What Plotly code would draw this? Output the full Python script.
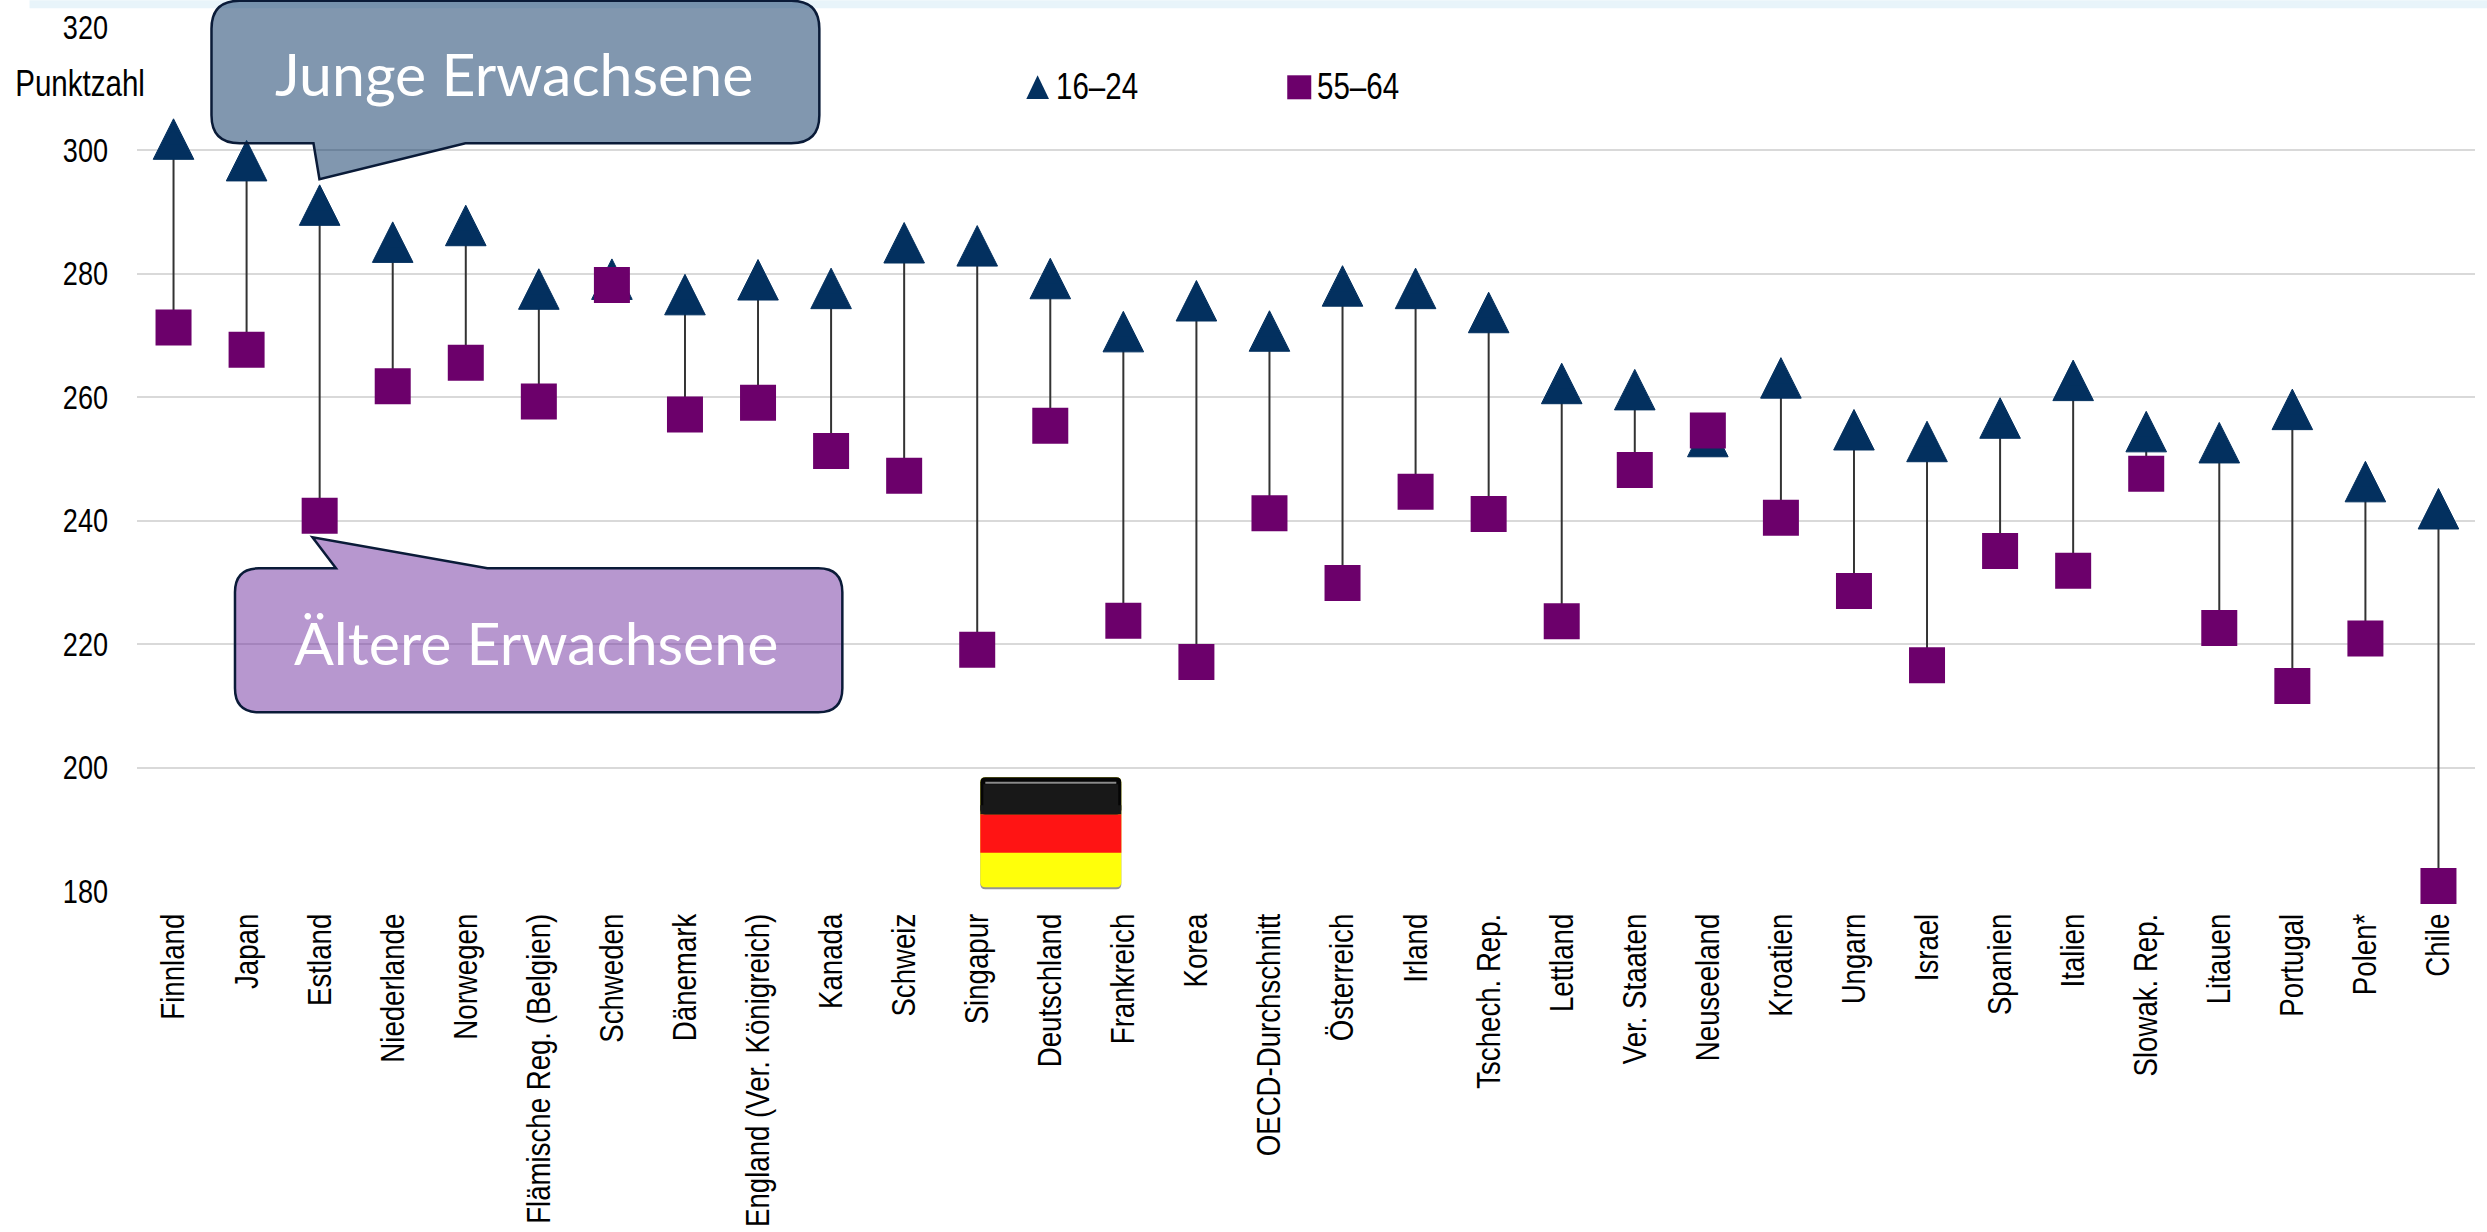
import plotly.graph_objects as go

countries = ["Finnland", "Japan", "Estland", "Niederlande", "Norwegen", "Flämische Reg. (Belgien)", "Schweden",
             "Dänemark", "England (Ver. Königreich)", "Kanada", "Schweiz", "Singapur", "Deutschland", "Frankreich",
             "Korea", "OECD-Durchschnitt", "Österreich", "Irland", "Tschech. Rep.", "Lettland", "Ver. Staaten",
             "Neuseeland", "Kroatien", "Ungarn", "Israel", "Spanien", "Italien", "Slowak. Rep.", "Litauen",
             "Portugal", "Polen*", "Chile"]
young = [301.8, 298.3, 291.1, 285.1, 287.8, 277.5, 279.1, 276.6, 279.0, 277.6, 285.0, 284.5, 279.2, 270.6, 275.6,
         270.7, 278.0, 277.6, 273.7, 262.2, 261.2, 253.6, 263.1, 254.7, 252.8, 256.6, 262.7, 254.4, 252.6, 258.0,
         246.3, 241.9]
old = [271.3, 267.7, 240.8, 261.8, 265.6, 259.3, 278.2, 257.2, 259.1, 251.3, 247.3, 219.1, 255.4, 223.8, 217.1,
       241.2, 229.9, 244.7, 241.1, 223.7, 248.2, 254.6, 240.5, 228.6, 216.6, 235.1, 231.9, 247.6, 222.6, 213.2,
       220.9, 180.8]
y_ticks = [180, 200, 220, 240, 260, 280, 300, 320]

W, H = 2487, 1232
L, R, T, B = 136.5, 2475, 26.7, 890.7
NAVY, PURPLE = "#03305F", "#6C006B"
SANS = "Liberation Sans, Arial, sans-serif"


def px(x):
    return (x - L) / (R - L)


def py(y):
    return (B - y) / (B - T)


def path(points, close=True):
    s = "M" + " L".join(f"{px(x):.5f},{py(y):.5f}" for x, y in points)
    return s + (" Z" if close else "")


def rounded(x0, y0, x1, y1, r, extra_top=None, extra_bottom=None):
    p = lambda x, y: f"{px(x):.5f},{py(y):.5f}"
    s = f"M{p(x0 + r, y0)}"
    for pt in (extra_top or []):
        s += f" L{p(*pt)}"
    s += f" L{p(x1 - r, y0)} Q{p(x1, y0)} {p(x1, y0 + r)} L{p(x1, y1 - r)} Q{p(x1, y1)} {p(x1 - r, y1)}"
    for pt in (extra_bottom or []):
        s += f" L{p(*pt)}"
    s += f" L{p(x0 + r, y1)} Q{p(x0, y1)} {p(x0, y1 - r)} L{p(x0, y0 + r)} Q{p(x0, y0)} {p(x0 + r, y0)} Z"
    return s


shapes = []
# stems and triangles between grid and traces, so that the squares cover them
for c, a, b in zip(countries, young, old):
    shapes.append(dict(type="line", xref="x", yref="y", x0=c, x1=c, y0=a, y1=b, layer="between",
                       line=dict(color="#333333", width=2)))
for c, a in zip(countries, young):
    shapes.append(dict(type="path", xref="x", yref="y", xsizemode="pixel", ysizemode="pixel", xanchor=c, yanchor=a,
                       path="M-20.3,-20 L20.3,-20 L0,20.5 Z", fillcolor=NAVY, line=dict(color=NAVY, width=1),
                       layer="between"))

# top strip
shapes.append(dict(type="path", xref="paper", yref="paper", path=path([(29, 0), (W, 0), (W, 8), (29, 8)]),
                   fillcolor="#E8F4FA", line=dict(width=0), layer="below"))

# callouts
shapes.append(dict(type="path", xref="paper", yref="paper", layer="above",
                   path=rounded(211, 0.5, 819, 143, 28, extra_bottom=[(465, 143), (319, 179), (313, 143)]),
                   fillcolor="rgba(3,47,96,0.5)", line=dict(color="#0A1B38", width=2.5)))
shapes.append(dict(type="path", xref="paper", yref="paper", layer="above",
                   path=rounded(234.5, 568, 842, 712, 24, extra_top=[(335.5, 568), (312, 537), (487, 568)]),
                   fillcolor="rgba(112,48,160,0.5)", line=dict(color="#0A1B38", width=2.5)))

# flag
for pth, col in [
    (rounded(980, 779, 1121, 889, 5), "rgba(60,60,60,0.55)"),
    (rounded(980, 777, 1121, 887, 5), "#FFFF0A"),
    (path([(980, 814), (1121, 814), (1121, 852.5), (980, 852.5)]), "#FF1414"),
    (rounded(980, 777, 1121, 814, 5), "#050505"),
    (path([(980, 805), (1121, 805), (1121, 814), (980, 814)]), "#181818"),
    (path([(983, 784), (1118, 784), (1118, 814), (983, 814)]), "#181818"),
    (path([(985, 781.5), (1116, 781.5), (1116, 783.5), (985, 783.5)]), "#8A8A8A"),
]:
    shapes.append(dict(type="path", xref="paper", yref="paper", layer="above", path=pth, fillcolor=col,
                       line=dict(width=0)))

# legend keys
shapes.append(dict(type="path", xref="paper", yref="paper", layer="above",
                   path=path([(1026, 98.7), (1048.7, 98.7), (1037.3, 75)]), fillcolor=NAVY, line=dict(width=0)))
shapes.append(dict(type="path", xref="paper", yref="paper", layer="above",
                   path=path([(1287, 75), (1311, 75), (1311, 99), (1287, 99)]), fillcolor=PURPLE, line=dict(width=0)))

annotations = [
    dict(text="Junge Erwachsene", x=px(514), y=py(73), font=dict(family="Lato, sans-serif", size=59, color="white")),
    dict(text="Ältere Erwachsene", x=px(536), y=py(642), font=dict(family="Lato, sans-serif", size=59, color="white")),
    dict(text="Punktzahl", x=px(79), y=py(83), font=dict(family=SANS, size=36, color="black")),
    dict(text="16–24", x=px(1097), y=py(86), font=dict(family=SANS, size=36, color="black")),
    dict(text="55–64", x=px(1358), y=py(86), font=dict(family=SANS, size=36, color="black")),
]
for a in annotations:
    a.update(xref="paper", yref="paper", xanchor="center", yanchor="middle", showarrow=False)

fig = go.Figure()
fig.add_trace(go.Scatter(x=countries, y=young, mode="markers", name="16–24", cliponaxis=False,
                         marker=dict(symbol="triangle-up", size=20, color=NAVY, line=dict(width=0))))
fig.add_trace(go.Scatter(x=countries, y=old, mode="markers", name="55–64", cliponaxis=False,
                         marker=dict(symbol="square", size=36, color=PURPLE, line=dict(width=0))))

fig.update_layout(
    width=W, height=H, showlegend=False, paper_bgcolor="white", plot_bgcolor="white",
    margin=dict(l=L, r=W - R, t=T, b=H - B, pad=0, autoexpand=False),
    shapes=shapes, annotations=annotations,
    xaxis=dict(type="category", categoryorder="array", categoryarray=countries, range=[-0.5, 31.5],
               tickangle=-90, showgrid=False, showline=False, zeroline=False, ticks="", automargin=False,
               ticklabelstandoff=15, tickfont=dict(family=SANS, size=33.7, color="black")),
    yaxis=dict(range=[180, 320], tickvals=y_ticks, showline=False, zeroline=False, ticks="", automargin=False,
               gridcolor="#D9D9D9", gridwidth=2, ticklabelstandoff=28,
               tickfont=dict(family=SANS, size=33, color="black")),
)
# The reference's Arial text is condensed: squeeze the glyphs of the Arial-like labels along their length.
squeeze = """
document.body.style.margin='0';
var nodes = document.querySelectorAll('.xtick text, .ytick text, .annotation-text');
nodes.forEach(function (t) {
  if (t.textContent.indexOf('Erwachsene') >= 0) { return; }
  t.setAttribute('lengthAdjust', 'spacingAndGlyphs');
  t.setAttribute('textLength', t.getComputedTextLength() * 0.82);
});
"""
fig.write_html("out.html", post_script=squeeze, config=dict(displayModeBar=False))
